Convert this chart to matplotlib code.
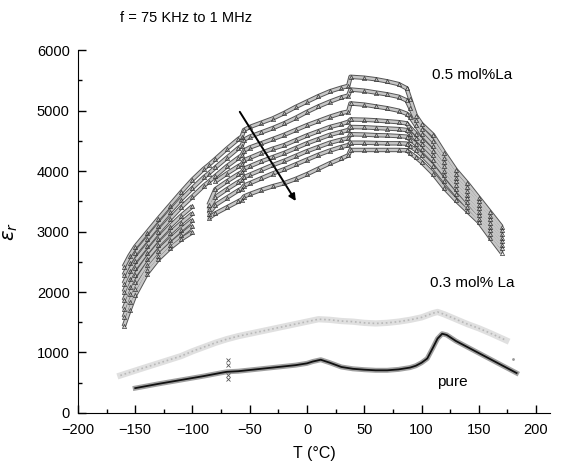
import numpy as np
import matplotlib
matplotlib.use('Agg')
import matplotlib.pyplot as plt
from matplotlib.ticker import MultipleLocator

plt.rcParams['font.family'] = ['Liberation Sans', 'DejaVu Sans']

# 0.5 mol% La, eight frequencies (75 kHz top ... 1 MHz bottom)
temp_05 = [-160, -155, -150, -140, -130, -120, -110, -100, -90, -86, -80, -70, -60, -57, -55,
           -50, -40, -30, -20, -10, 0, 10, 20, 30, 36, 38, 50, 60, 70, 80, 87,
           90, 95, 100, 110, 120, 130, 140, 150, 160, 170]
nan = np.nan
eps_05 = [
    [2420, 2600, 2750, 2980, 3210, 3430, 3650, 3860, 4040, 4100, 4200, 4370, 4530, 4570, 4680,
     4730, 4800, 4870, 4960, 5060, 5150, 5240, 5320, 5380, 5410, 5560, 5545, 5520, 5485, 5440, 5370,
     5200, 4920, 4780, 4600, 4300, 4020, 3800, 3560, 3320, 3080],
    [2280, 2480, 2640, 2870, 3100, 3320, 3530, 3720, 3900, 3960, 4060, 4220, 4380, 4420, 4520,
     4570, 4640, 4710, 4790, 4880, 4980, 5070, 5150, 5220, 5250, 5350, 5330, 5300, 5270, 5230, 5170,
     5050, 4850, 4700, 4500, 4220, 3950, 3730, 3500, 3260, 3020],
    [2140, 2350, 2520, 2760, 2990, 3200, 3400, 3580, 3760, 3820, 3920, 4080, 4220, 4260, 4340,
     4390, 4460, 4530, 4600, 4680, 4760, 4830, 4900, 4960, 4985, 5120, 5100, 5070, 5040, 5000, 4950,
     4900, 4760, 4620, 4420, 4150, 3890, 3670, 3440, 3200, 2960],
    [2000, 2220, 2400, 2650, 2880, 3080, 3260, 3420, nan, nan, 3830, 3960, 4080, 4110, 4180,
     4220, 4300, 4370, 4430, 4510, 4590, 4660, 4730, 4780, 4815, 4855, 4850, 4840, 4825, 4810, 4790,
     4720, 4620, 4520, 4330, 4080, 3830, 3610, 3390, 3140, 2900],
    [1860, 2090, 2280, 2550, 2780, 2970, 3140, 3300, nan, 3440, 3700, 3830, 3950, 3980, 4040,
     4080, 4160, 4230, 4300, 4380, 4460, 4530, 4600, 4650, 4680, 4730, 4725, 4715, 4705, 4695, 4680,
     4620, 4540, 4450, 4260, 4010, 3770, 3550, 3330, 3080, 2840],
    [1720, 1960, 2160, 2450, 2680, 2860, 3030, 3190, nan, 3370, 3570, 3700, 3820, 3850, 3900,
     3940, 4020, 4100, 4170, 4250, 4330, 4400, 4470, 4520, 4545, 4610, 4605, 4595, 4590, 4580, 4570,
     4520, 4450, 4370, 4180, 3940, 3710, 3490, 3270, 3020, 2780],
    [1580, 1830, 2050, 2370, 2600, 2780, 2940, 3090, nan, 3290, 3440, 3560, 3680, 3710, 3760,
     3800, 3880, 3960, 4030, 4110, 4190, 4270, 4340, 4400, 4430, 4470, 4470, 4465, 4460, 4460, 4455,
     4410, 4350, 4270, 4080, 3840, 3620, 3410, 3210, 2960, 2720],
    [1430, 1700, 1950, 2300, 2540, 2720, 2870, 2990, nan, 3220, 3300, 3400, 3500, 3530, 3580,
     3620, 3690, 3750, 3800, 3870, 3950, 4040, 4130, 4210, 4260, 4350, 4350, 4350, 4350, 4350, 4345,
     4300, 4230, 4150, 3960, 3720, 3520, 3340, 3160, 2900, 2650],
]

# 0.3 mol% La
temp_03 = [-163, -150, -140, -130, -120, -110, -100, -90, -80, -70, -60, -50, -40, -30, -20, -10,
           0, 10, 20, 30, 40, 50, 60, 70, 80, 90, 100, 110, 114, 120, 130, 140, 150, 160, 174]
eps_03 = [620, 700, 760, 820, 880, 940, 1020, 1090, 1160, 1220, 1270, 1310, 1350, 1390, 1430, 1470,
          1510, 1550, 1540, 1520, 1510, 1490, 1480, 1490, 1510, 1540, 1580, 1650, 1670, 1630, 1550,
          1470, 1400, 1320, 1200]

# pure
temp_pure = [-150, -130, -110, -90, -76, -70, -60, -50, -40, -30, -20, -10, 0, 5, 12, 20, 30, 40,
             50, 60, 70, 80, 90, 95, 100, 105, 110, 114, 118, 122, 130, 140, 150, 160, 170, 183]
eps_pure = [410, 480, 545, 610, 660, 680, 690, 710, 730, 750, 770, 790, 820, 850, 880, 830, 760, 730,
            715, 705, 705, 720, 750, 780, 830, 900, 1080, 1230, 1310, 1290, 1190, 1090, 990, 890, 790, 660]
glitch_t = [-69, -69, -69, -69]
glitch_eps = [870, 800, 630, 560]

fig = plt.figure(figsize=(5.61, 4.65), dpi=100)
ax = fig.add_axes([0.139, 0.112, 0.841, 0.780])

for vals in eps_05:
    ax.plot(temp_05, vals, '-', color='#555555', lw=3.2, solid_capstyle='butt', zorder=2)
    ax.plot(temp_05, vals, '-', color='#c6c6c6', lw=1.8, zorder=3)
    ax.plot(temp_05, vals, '^', color='#333333', ms=3, mfc='none', mew=0.5, zorder=4)

ax.plot(temp_03, eps_03, '-', color='#e0e0e0', lw=4.5, zorder=2)
ax.plot(temp_03, eps_03, ':', color='#b8b8b8', lw=1.2, zorder=3)
ax.plot([180], [900], '.', color='#999999', ms=2)

ax.plot(temp_pure, eps_pure, '-', color='#a0a0a0', lw=3.6, zorder=2)
ax.plot(temp_pure, eps_pure, '-', color='#111111', lw=1.3, zorder=3)
ax.plot(glitch_t, glitch_eps, 'x', color='#555555', ms=3, mew=0.6)

ax.annotate('', xy=(-8.5, 3466), xytext=(-60, 5020),
            arrowprops=dict(arrowstyle='-|>', color='black', lw=1.4, mutation_scale=10))

ax.text(144, 5587, '0.5 mol%La', ha='center', va='center', fontsize=11)
ax.text(144, 2149, '0.3 mol% La', ha='center', va='center', fontsize=11)
ax.text(127, 512, 'pure', ha='center', va='center', fontsize=11)
fig.text(0.214, 0.961, 'f = 75 KHz to 1 MHz', ha='left', va='center', fontsize=10.5)

ax.set_xlim(-200, 212)
ax.set_ylim(0, 6000)
ax.xaxis.set_major_locator(MultipleLocator(50))
ax.xaxis.set_minor_locator(MultipleLocator(25))
ax.yaxis.set_major_locator(MultipleLocator(1000))
ax.yaxis.set_minor_locator(MultipleLocator(500))
ax.tick_params(which='both', direction='in', labelsize=10.5, width=1)
ax.tick_params(which='major', length=6)
ax.tick_params(which='minor', length=3)
ax.tick_params(axis='x', pad=7)
ax.tick_params(axis='y', pad=6)
ax.spines['top'].set_visible(False)
ax.spines['right'].set_visible(False)
ax.set_xlabel('T (°C)', fontsize=11.5, labelpad=7)
ax.set_ylabel(r'$\epsilon_r$', fontsize=14, labelpad=12)

fig.savefig('out.png', dpi=100)
